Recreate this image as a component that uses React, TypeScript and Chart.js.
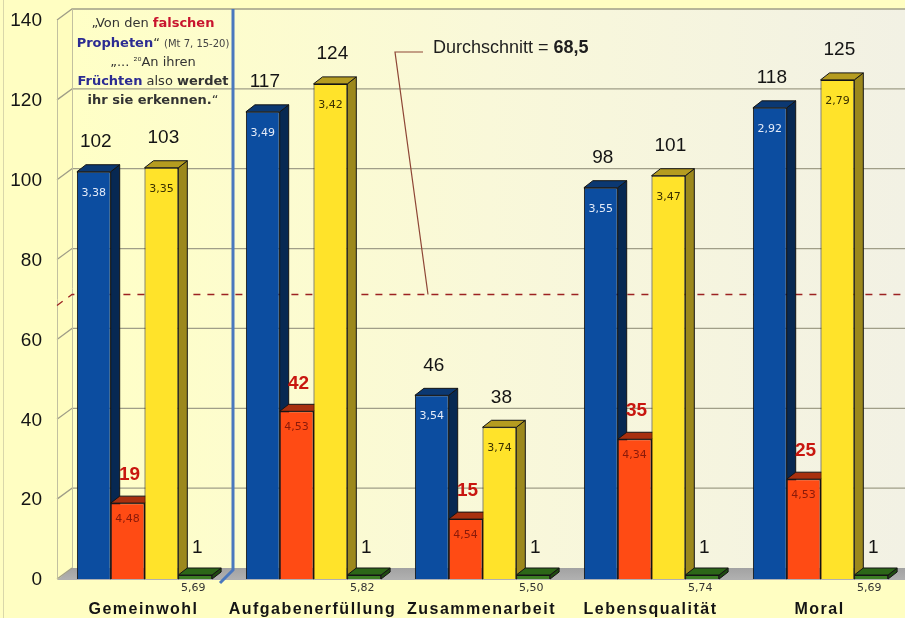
import { useEffect, useRef } from "react";
import { Chart, registerables } from "chart.js";

Chart.register(...registerables);

const categories = ["Gemeinwohl", "Aufgabenerfüllung", "Zusammenarbeit", "Lebensqualität", "Moral"];
const seriesBlue = [102, 117, 46, 98, 118];
const seriesRed = [19, 42, 15, 35, 25];
const seriesYellow = [103, 124, 38, 101, 125];
const seriesGreen = [1, 1, 1, 1, 1];
const innerBlue = ["3,38", "3,49", "3,54", "3,55", "2,92"];
const innerRed = ["4,48", "4,53", "4,54", "4,34", "4,53"];
const innerYellow = ["3,35", "3,42", "3,74", "3,47", "2,79"];
const innerGreen = ["5,69", "5,82", "5,50", "5,74", "5,69"];
const yTickValues = [0, 20, 40, 60, 80, 100, 120, 140];
const average = 68.5;
const averageText = "Durchschnitt = ";
const averageValueText = "68,5";

const frontColors = ["#0C4DA0", "#FF4B14", "#FFE32A", "#3C7E24"];
const topColors = ["#0B3872", "#A8300F", "#B59C20", "#2C6618"];
const sideColors = ["#072852", "#7E2008", "#9C881C", "#1E4A10"];
const innerTexts = [innerBlue, innerRed, innerYellow, innerGreen];

const DX = 9;
const DY = 7;
const WDX = 15;
const WDY = 11;

const Q_REG = "13px 'DejaVu Sans'";
const Q_BOLD = "bold 13px 'DejaVu Sans'";
const Q_SMALL = "10px 'DejaVu Sans'";
const QC = "#333333";
const QB = "#2B2B92";
const QR = "#C8142E";
const quoteLines: [string, string, string][][] = [
  [["„Von den ", Q_REG, QC], ["falschen", Q_BOLD, QR]],
  [["Propheten", Q_BOLD, QB], ["“ ", Q_REG, QC], ["(Mt 7, 15-20)", Q_SMALL, "#444444"]],
  [["„... ", Q_REG, QC], ["²⁰", Q_SMALL, QC], ["An ihren", Q_REG, QC]],
  [["Früchten", Q_BOLD, QB], [" also ", Q_REG, QC], ["werdet", Q_BOLD, QC]],
  [["ihr sie erkennen.", Q_BOLD, QC], ["“", Q_REG, QC]],
];

function poly(ctx: CanvasRenderingContext2D, pts: number[][], fill: any, stroke?: string) {
  ctx.beginPath();
  ctx.moveTo(pts[0][0], pts[0][1]);
  for (let i = 1; i < pts.length; i++) ctx.lineTo(pts[i][0], pts[i][1]);
  ctx.closePath();
  ctx.fillStyle = fill;
  ctx.fill();
  if (stroke) {
    ctx.strokeStyle = stroke;
    ctx.lineWidth = 1;
    ctx.stroke();
  }
}

function drawRich(ctx: CanvasRenderingContext2D, segs: [string, string, string][], cx: number, cy: number) {
  let w = 0;
  segs.forEach((s) => {
    ctx.font = s[1];
    w += ctx.measureText(s[0]).width;
  });
  let xx = cx - w / 2;
  ctx.textAlign = "left";
  ctx.textBaseline = "middle";
  segs.forEach((s) => {
    ctx.font = s[1];
    ctx.fillStyle = s[2];
    const dy = s[0] === "²⁰" ? -1 : 0;
    ctx.fillText(s[0], xx, cy + dy);
    xx += ctx.measureText(s[0]).width;
  });
}

const threeD = {
  id: "threeD",
  beforeDraw(chart: any) {
    const { ctx, width, height } = chart;
    ctx.save();
    ctx.fillStyle = "#FFFEC2";
    ctx.fillRect(0, 0, width, height);
    ctx.strokeStyle = "#D9D7AA";
    ctx.lineWidth = 1;
    ctx.beginPath();
    ctx.moveTo(3.5, 0);
    ctx.lineTo(3.5, height);
    ctx.stroke();
    ctx.restore();
  },
  beforeDatasetsDraw(chart: any) {
    const { ctx, chartArea: ca, scales } = chart;
    const x = scales.x;
    const y = scales.y;
    const fx = ca.left - 3;
    const bx = fx + WDX;
    const right = chart.width;
    const yF = (v: number) => y.getPixelForValue(v);
    const yB = (v: number) => y.getPixelForValue(v) - WDY;
    const vmax = y.max;
    ctx.save();
    // back wall
    const g = ctx.createLinearGradient(bx, 0, right, 0);
    g.addColorStop(0, "#FFFFC6");
    g.addColorStop(0.5, "#F9F8D9");
    g.addColorStop(1, "#F2F1E4");
    ctx.fillStyle = g;
    ctx.fillRect(bx, yB(vmax), right - bx, yB(0) - yB(vmax));
    // side wall
    poly(ctx, [[fx, yF(vmax)], [bx, yB(vmax)], [bx, yB(0)], [fx, yF(0)]], "#FFFDBE");
    // floor
    const fg = ctx.createLinearGradient(0, yB(0), 0, yF(0));
    fg.addColorStop(0, "#A2A2A2");
    fg.addColorStop(1, "#B0B0B0");
    poly(ctx, [[fx, yF(0) + 1], [bx, yB(0)], [right, yB(0)], [right, yF(0) + 1]], fg);
    // grid lines
    ctx.strokeStyle = "#A09E88";
    ctx.lineWidth = 1.3;
    yTickValues.forEach((v) => {
      ctx.beginPath();
      ctx.moveTo(fx, yF(v));
      ctx.lineTo(bx, yB(v));
      if (v !== 0) ctx.lineTo(right, yB(v));
      ctx.stroke();
    });
    ctx.lineWidth = 1;
    ctx.strokeStyle = "#C2C0A0";
    ctx.beginPath();
    ctx.moveTo(fx + 0.5, yF(vmax));
    ctx.lineTo(fx + 0.5, yF(0));
    ctx.moveTo(bx + 0.5, yB(vmax));
    ctx.lineTo(bx + 0.5, yB(0));
    ctx.stroke();
    // average dashed line
    ctx.strokeStyle = "#9C2222";
    ctx.lineWidth = 1.3;
    ctx.setLineDash([7, 7]);
    ctx.beginPath();
    ctx.moveTo(fx, yF(average));
    ctx.lineTo(bx, yB(average));
    ctx.lineTo(right, yB(average));
    ctx.stroke();
    ctx.setLineDash([]);
    // leader line
    ctx.strokeStyle = "#8E4636";
    ctx.lineWidth = 1.2;
    ctx.beginPath();
    ctx.moveTo(423, 52);
    ctx.lineTo(395, 52);
    ctx.lineTo(428, yB(average));
    ctx.stroke();
    // blue separator
    const sep = (x.getPixelForValue(0) + x.getPixelForValue(1)) / 2 + 4;
    ctx.strokeStyle = "#4A78BE";
    ctx.lineWidth = 3;
    ctx.beginPath();
    ctx.moveTo(sep, yB(vmax));
    ctx.lineTo(sep, yB(0) + 2);
    ctx.lineTo(sep - 13, yF(0) + 4);
    ctx.stroke();
    // 3D faces
    for (let d = 0; d < chart.data.datasets.length; d++) {
      const meta = chart.getDatasetMeta(d);
      meta.data.forEach((el: any) => {
        const l = el.x - el.width / 2;
        const r = el.x + el.width / 2;
        const t = el.y;
        const b = el.base;
        poly(ctx, [[r, t], [r + DX, t - DY], [r + DX, b - DY], [r, b]], sideColors[d], "#141414");
        poly(ctx, [[l, t], [l + DX, t - DY], [r + DX, t - DY], [r, t]], topColors[d], "#141414");
      });
    }
    ctx.restore();
  },
  afterDatasetsDraw(chart: any) {
    const { ctx, chartArea: ca, scales } = chart;
    const x = scales.x;
    const y = scales.y;
    ctx.save();
    // y tick labels
    ctx.textAlign = "right";
    ctx.textBaseline = "middle";
    ctx.font = "19px 'Liberation Sans', Arial, sans-serif";
    ctx.fillStyle = "#141414";
    yTickValues.forEach((v) => {
      ctx.fillText(String(v), ca.left - 18, y.getPixelForValue(v) + 1);
    });
    ctx.textAlign = "center";
    for (let d = 0; d < chart.data.datasets.length; d++) {
      const meta = chart.getDatasetMeta(d);
      const data = chart.data.datasets[d].data;
      meta.data.forEach((el: any, i: number) => {
        const v = data[i];
        if (d === 1) {
          ctx.font = "bold 19px 'Liberation Sans', Arial, sans-serif";
          ctx.fillStyle = "#C8160F";
          ctx.fillText(String(v), el.x + 2, el.y - 28);
        } else {
          ctx.font = "19px 'Liberation Sans', Arial, sans-serif";
          ctx.fillStyle = "#141414";
          ctx.fillText(String(v), el.x + 2, el.y - (d === 3 ? 27 : 30));
        }
        ctx.font = "11px 'DejaVu Sans'";
        const txt = innerTexts[d][i];
        if (d === 0) {
          ctx.fillStyle = "#E4EBF8";
          ctx.fillText(txt, el.x, el.y + 21);
        } else if (d === 1) {
          ctx.fillStyle = "#8A1A0A";
          ctx.fillText(txt, el.x, el.y + 16);
        } else if (d === 2) {
          ctx.fillStyle = "#3A3000";
          ctx.fillText(txt, el.x, el.y + 21);
        } else {
          ctx.fillStyle = "#333333";
          ctx.fillText(txt, el.x - 2, el.base + 9);
        }
      });
    }
    // category labels
    ctx.font = "bold 16px 'Liberation Sans', Arial, sans-serif";
    ctx.fillStyle = "#141414";
    (ctx as any).letterSpacing = "1.5px";
    categories.forEach((c, i) => {
      ctx.fillText(c, x.getPixelForValue(i) - 1, 610);
    });
    (ctx as any).letterSpacing = "0px";
    // quote
    const qy = [24, 44, 63, 82, 101];
    quoteLines.forEach((line, i) => drawRich(ctx, line, 153, qy[i]));
    // average label
    ctx.textAlign = "left";
    ctx.textBaseline = "middle";
    ctx.font = "18px 'Liberation Sans', Arial, sans-serif";
    ctx.fillStyle = "#1E1E1E";
    ctx.fillText(averageText, 433, 48);
    const w = ctx.measureText(averageText).width;
    ctx.font = "bold 18px 'Liberation Sans', Arial, sans-serif";
    ctx.fillText(averageValueText, 433 + w, 48);
    ctx.restore();
  },
};

export default function App() {
  const ref = useRef<HTMLCanvasElement | null>(null);
  useEffect(() => {
    if (!ref.current) return;
    const chart = new Chart(ref.current, {
      type: "bar",
      data: {
        labels: categories,
        datasets: [seriesBlue, seriesRed, seriesYellow, seriesGreen].map((s, i) => ({
          label: "S" + i,
          data: s,
          backgroundColor: frontColors[i],
          borderColor: "#141414",
          borderWidth: 1,
          categoryPercentage: 0.8,
          barPercentage: 1,
        })),
      },
      options: {
        animation: false,
        responsive: false,
        layout: { padding: { top: 20, bottom: 39, left: 60, right: 0 } },
        plugins: { legend: { display: false }, tooltip: { enabled: false } },
        scales: {
          x: { display: false },
          y: { display: false, min: 0, max: 140 },
        },
      } as any,
      plugins: [threeD as any],
    });
    return () => chart.destroy();
  }, []);
  return (
    <div style={{ position: "fixed", left: 0, top: 0, width: 905, height: 618, background: "#FFFEC2" }}>
      <canvas ref={ref} width={905} height={618} style={{ display: "block" }} />
    </div>
  );
}
